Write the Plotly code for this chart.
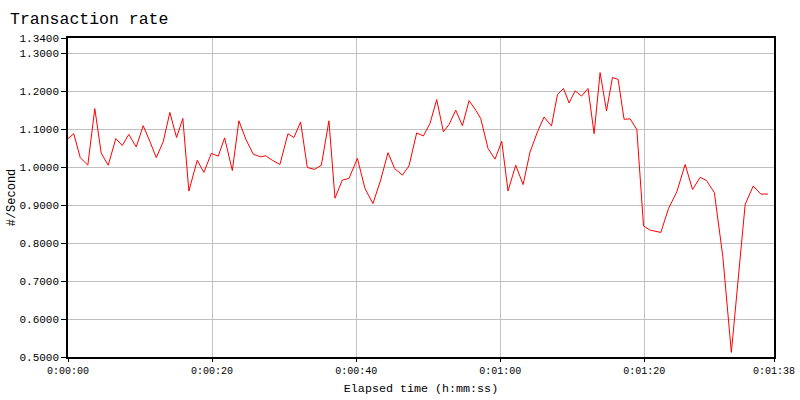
import plotly.graph_objects as go

# Elapsed time in seconds and transaction rate (#/second)
elapsed_s = [
    0.0, 0.8, 1.7, 2.75, 3.72, 4.61, 5.58, 6.64, 7.53, 8.44,
    9.47, 10.44, 11.36, 12.25, 13.22, 14.14, 15.07, 15.94, 16.78, 17.94,
    18.86, 19.89, 20.86, 21.74, 22.81, 23.72, 24.72, 25.72, 26.74, 27.43,
    28.36, 29.42, 30.53, 31.36, 32.29, 33.22, 34.24, 35.17, 36.22, 37.06,
    38.08, 39.0, 40.17, 41.22, 42.33, 43.40, 44.42, 45.35, 46.42, 47.33,
    48.40, 49.33, 50.25, 51.18, 52.11, 52.89, 53.82, 54.75, 55.67, 56.60,
    57.29, 58.31, 59.28, 60.21, 61.08, 62.15, 63.17, 64.14, 65.17, 66.08,
    67.11, 67.94, 68.78, 69.56, 70.39, 71.28, 72.19, 73.03, 73.86, 74.75,
    75.58, 76.36, 77.19, 78.03, 78.96, 79.89, 80.81, 81.60, 82.29, 83.36,
    84.51, 85.67, 86.69, 87.75, 88.61, 89.72, 90.90, 92.08, 92.99, 94.0,
    95.11, 96.18, 97.15,
]
rate = [
    1.075, 1.088, 1.025, 1.005, 1.154, 1.037, 1.005, 1.075, 1.057, 1.086,
    1.053, 1.109, 1.068, 1.025, 1.067, 1.144, 1.078, 1.128, 0.937, 1.018,
    0.986, 1.036, 1.029, 1.077, 0.991, 1.122, 1.072, 1.034, 1.027, 1.030,
    1.018, 1.007, 1.088, 1.078, 1.119, 0.999, 0.994, 1.005, 1.122, 0.918,
    0.966, 0.970, 1.023, 0.944, 0.904, 0.966, 1.038, 0.996, 0.979, 1.003,
    1.090, 1.082, 1.115, 1.178, 1.093, 1.112, 1.150, 1.109, 1.175, 1.150,
    1.128, 1.049, 1.021, 1.068, 0.937, 1.005, 0.954, 1.040, 1.093, 1.132,
    1.108, 1.191, 1.207, 1.169, 1.201, 1.187, 1.207, 1.088, 1.249, 1.148,
    1.236, 1.231, 1.126, 1.127, 1.099, 0.845, 0.834, 0.831, 0.828, 0.891,
    0.935, 1.007, 0.941, 0.973, 0.965, 0.933, 0.764, 0.512, 0.703, 0.902,
    0.950, 0.929, 0.929,
]

x_tick_vals = [0, 20, 40, 60, 80, 98]
x_tick_text = ["0:00:00", "0:00:20", "0:00:40", "0:01:00", "0:01:20", "0:01:38"]
y_tick_vals = [0.5, 0.6, 0.7, 0.8, 0.9, 1.0, 1.1, 1.2, 1.3, 1.34]
y_tick_text = ["0.5000", "0.6000", "0.7000", "0.8000", "0.9000", "1.0000",
               "1.1000", "1.2000", "1.3000", "1.3400"]

MONO = "Liberation Mono, Courier New, monospace"

fig = go.Figure()
fig.add_trace(go.Scatter(
    x=elapsed_s, y=rate, mode="lines",
    line=dict(color="#ff0000", width=1),
    hoverinfo="x+y", showlegend=False,
))

fig.update_layout(
    width=800, height=400,
    margin=dict(l=68, r=26, t=38, b=43),
    paper_bgcolor="white", plot_bgcolor="white",
    title=dict(
        text="Transaction rate",
        font=dict(family=MONO, size=16.5, color="#000000"),
        xref="container", x=10 / 800, xanchor="left",
        yref="container", y=1 - 18 / 400, yanchor="middle",
    ),
    xaxis=dict(
        range=[0, 98],
        tickvals=x_tick_vals, ticktext=x_tick_text,
        tickfont=dict(family=MONO, size=10, color="#000000"),
        ticks="outside", ticklen=3, tickcolor="#000000", tickwidth=1,
        showgrid=True, gridcolor="#c0c0c0", gridwidth=1,
        showline=True, linecolor="#000000", linewidth=1.5, mirror=True,
        zeroline=False,
        title=dict(text="Elapsed time (h:mm:ss)",
                   font=dict(family=MONO, size=11.7, color="#000000"),
                   standoff=8),
        automargin=False,
    ),
    yaxis=dict(
        range=[0.5, 1.34],
        tickvals=y_tick_vals, ticktext=y_tick_text,
        tickfont=dict(family=MONO, size=11, color="#000000"),
        ticks="outside", ticklen=5, tickcolor="#000000", tickwidth=1,
        showgrid=True, gridcolor="#c0c0c0", gridwidth=1,
        showline=True, linecolor="#000000", linewidth=1.5, mirror=True,
        zeroline=False,
        title=dict(text="#/Second",
                   font=dict(family=MONO, size=12, color="#000000"),
                   standoff=0),
        automargin=False,
    ),
)

fig.write_html(
    "out.html",
    config={"displayModeBar": False},
    post_script="document.body.style.margin='0';document.body.style.overflow='hidden';",
)
